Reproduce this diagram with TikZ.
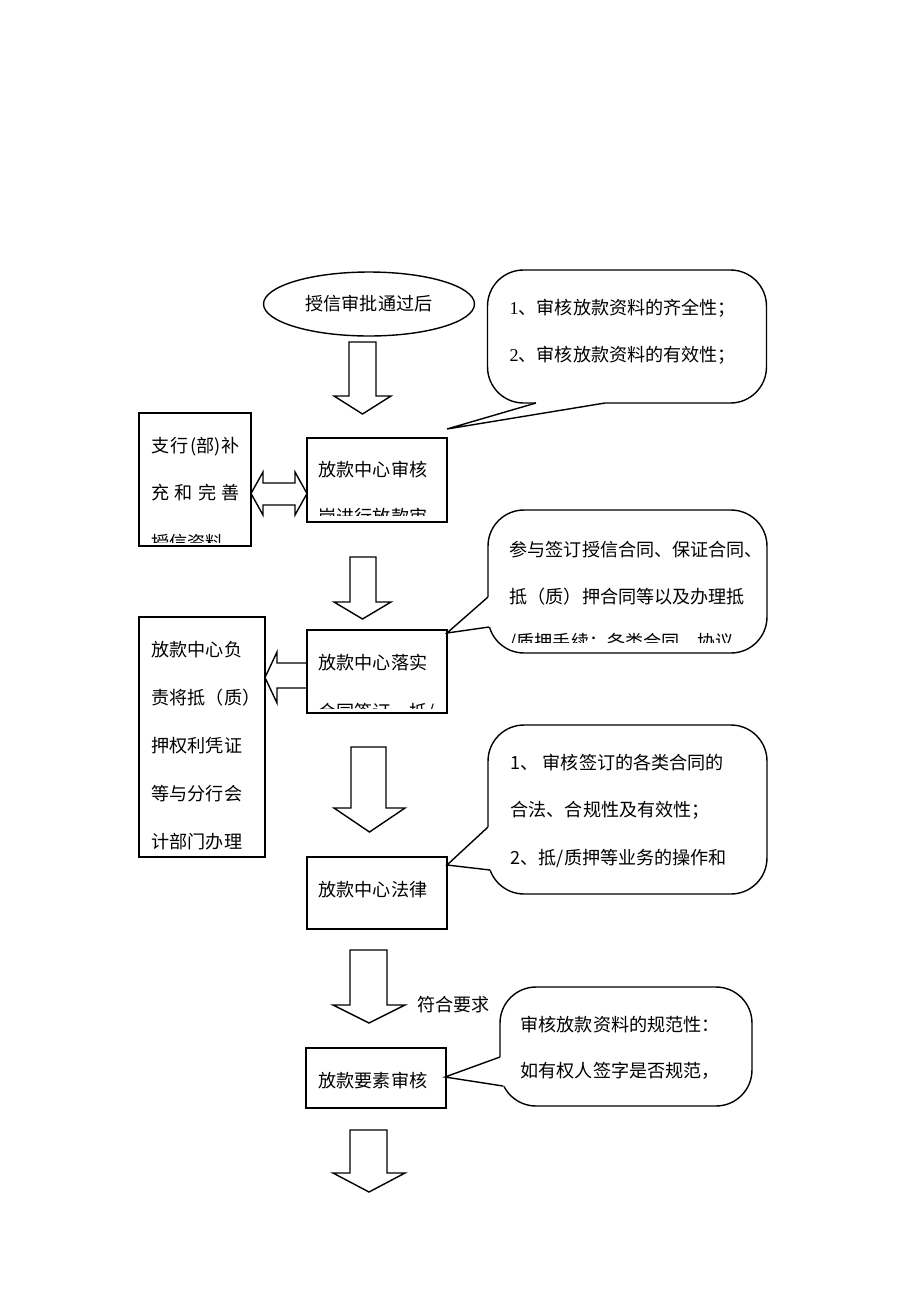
\documentclass[tikz,border=0pt]{standalone}
\usepackage{fontspec}
\setmainfont{Liberation Serif}
\newfontfamily\cjk{Noto Sans CJK SC}
\newcommand\zh{\cjk\fontsize{10.3pt}{12pt}\selectfont}
\usepackage{tikz}
\usetikzlibrary{shapes.geometric}
\usetikzlibrary{positioning}

\tikzset{
  box/.style={draw, fill=white, minimum width=2.8cm, inner sep=0pt},
  bubble/.style={draw, fill=white, rounded corners=0.72cm, inner sep=0pt},
  txt/.style={anchor=west, inner sep=0pt, font=\zh},
  blk/.style={draw, fill=white},
}

\begin{document}
\begin{tikzpicture}[x=0.02cm, y=-0.02cm, line join=miter, line width=0.8pt]
  \useasboundingbox (0,0) rectangle (920,1302);
  %--- start
    \node[ellipse, draw, minimum width=4.22cm, minimum height=1.28cm, inner sep=0pt, font=\zh] (start) at (369,304) {授信审批通过后};
  %--- block arrows
    \draw[blk] (349,342) -- ++(27,0) -- ++(0,54) -- ++(15,0) -- (362.5,414) -- (334,396) -- ++(15,0) -- cycle;
    \draw[blk] (350,557) -- ++(26,0) -- ++(0,45) -- ++(15,0) -- (362.5,619) -- (334,602) -- ++(16,0) -- cycle;
    \draw[blk] (351,747) -- ++(35,0) -- ++(0,61) -- ++(19,0) -- (369.5,832) -- (334,808) -- ++(17,0) -- cycle;
    \draw[blk] (350,950) -- ++(37,0) -- ++(0,55) -- ++(18,0) -- (369,1023) -- (333,1005) -- ++(17,0) -- cycle;
    \draw[blk] (350,1130) -- ++(37,0) -- ++(0,43) -- ++(18,0) -- (369,1192) -- (333,1173) -- ++(17,0) -- cycle;
  % double arrow
    \draw[blk] (251,493.5) -- (263,472) -- (263,483) -- (295,483) -- (295,472) -- (307,493.5) -- (295,515) -- (295,505) -- (263,505) -- (263,515) -- cycle;
  % left arrow
    \draw[blk] (265,677.5) -- (277,652) -- (277,663) -- (307,663) -- (307,688) -- (277,688) -- (277,703) -- cycle;
  %--- boxes
    \node[box, minimum width=2.24cm, minimum height=2.66cm] (branch) at (195,479.5) {};
    \node[box, minimum height=1.68cm] (check) at (377,480) {};
    \node[box, minimum height=1.66cm] (contract) at (377,671.5) {};
    \node[box, minimum width=2.52cm, minimum height=4.8cm] (pledge) at (202,737) {};
    \node[box, minimum height=1.44cm] (legal) at (377,893) {};
    \node[box, minimum height=1.2cm] (element) at (376,1078) {};
  % box texts (cut near the bottom edge)
    \begin{scope}
      \clip (branch.north west) rectangle ([yshift=0.08cm]branch.south east);
      \node[txt] (branch1) at (151,447) {\makebox[1.76cm][s]{支\hfill{}行\hfill{}(部)\hfill{}补}};
      \node[txt] (branch2) at (151,493) {\makebox[1.76cm][s]{充\hfill{}和\hfill{}完\hfill{}善}};
      \node[txt] (branch3) at (151,543) {授信资料};
    \end{scope}
    \begin{scope}
      \clip (check.north west) rectangle ([yshift=0.14cm]check.south east);
      \node[txt] (check1) at (318,470) {放款中心审核};
      \node[txt] (check2) at (318,517) {岗进行放款审};
    \end{scope}
    \begin{scope}
      \clip (contract.north west) rectangle ([yshift=0.1cm]contract.south east);
      \node[txt] (contract1) at (318,663) {放款中心落实};
      \node[txt] (contract2) at (318,712) {合同签订、抵/};
    \end{scope}
    \foreach \t [count=\i] in {放款中心负, 责将抵（质）, 押权利凭证, 等与分行会, 计部门办理}
      \node[txt] (pledge\i) at (151,{650+48*(\i-1)}) {\t};
    \node[txt] (legal1) at (318,890) {放款中心法律};
    \node[txt] (element1) at (318,1081) {放款要素审核};
    \node[txt] (ok) at (417,1005) {符合要求};
  %--- callouts
    \node[bubble, minimum width=5.58cm, minimum height=2.66cm] (note1) at (627,336.5) {};
    \node[bubble, minimum width=5.58cm, minimum height=2.86cm] (note2) at (627.5,581.5) {};
    \node[bubble, minimum width=5.58cm, minimum height=3.38cm] (note3) at (627.5,809.5) {};
    \node[bubble, minimum width=5.04cm, minimum height=2.38cm] (note4) at (626,1046.5) {};
  % pointers
    \coordinate (tip1) at (447,429);
    \coordinate (tip2) at (447,633);
    \coordinate (tip3) at (447,865);
    \coordinate (tip4) at (445,1077);
    \coordinate (a1) at (536,403);  \coordinate (b1) at (605,403);
    \coordinate (a2) at (488,597);  \coordinate (b2) at (489,627);
    \coordinate (a3) at (488,827);  \coordinate (b3) at (490,870);
    \coordinate (a4) at (500,1057); \coordinate (b4) at (503,1086);
    \fill[white] (a1) -- (tip1) -- (b1) -- ([yshift=2pt]b1) -- ([yshift=2pt]a1) -- cycle;
    \draw (a1) -- (tip1) -- (b1);
    \foreach \n in {2,3,4} {
      \fill[white] (a\n) -- (tip\n) -- (b\n) -- ([xshift=2pt]b\n) -- ([xshift=2pt]a\n) -- cycle;
      \draw (a\n) -- (tip\n) -- (b\n);
    }
  % callout texts
    \node[txt] (note11) at (509,308) {{\rmfamily 1}、审核放款资料的齐全性；};
    \node[txt] (note12) at (509,355) {{\rmfamily 2}、审核放款资料的有效性；};
    \begin{scope}
      \clip (note2.north west) rectangle ([yshift=0.22cm]note2.south east);
      \node[txt] (note21) at (509,550) {参与签订授信合同、保证合同、};
      \node[txt] (note22) at (509,597) {抵（质）押合同等以及办理抵};
      \node[txt] (note23) at (509,642) {/质押手续：各类合同、协议};
    \end{scope}
    \node[txt] (note31) at (510,763) {1、 审核签订的各类合同的};
    \node[txt] (note32) at (510,810) {合法、合规性及有效性；};
    \node[txt] (note33) at (510,858) {2、抵/质押等业务的操作和};
    \node[txt] (note41) at (520,1025) {审核放款资料的规范性：};
    \node[txt] (note42) at (520,1071) {如有权人签字是否规范，};
\end{tikzpicture}
\end{document}
